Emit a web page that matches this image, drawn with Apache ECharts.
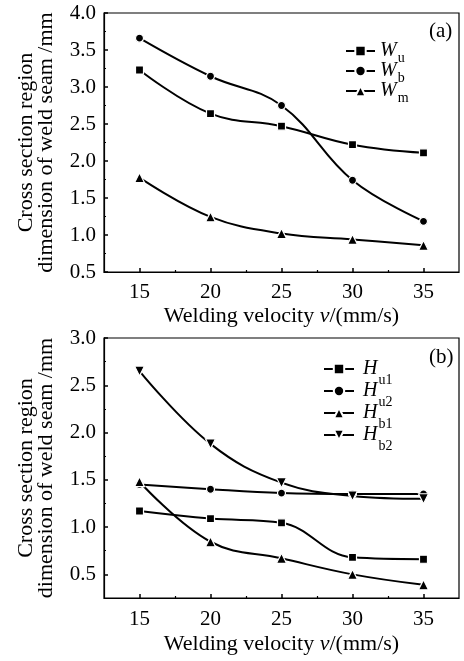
<!DOCTYPE html>
<html><head><meta charset="utf-8">
<script src="https://cdn.jsdelivr.net/npm/echarts@6/dist/echarts.min.js"></script>
<style>html,body{margin:0;padding:0;background:#fff}#c{width:464px;height:661px}</style>
</head><body><div id="c"></div>
<script>
var velocity = [15, 20, 25, 30, 35];
var xTickLabels = [15, 20, 25, 30, 35];
var xMinorTicks = [17.5, 22.5, 27.5, 32.5];
var Wu = [3.23, 2.64, 2.47, 2.22, 2.11];
var Wb = [3.66, 3.145, 2.75, 1.74, 1.185];
var Wm = [1.775, 1.245, 1.02, 0.94, 0.86];
var Hu1 = [1.17, 1.09, 1.045, 0.68, 0.66];
var Hu2 = [1.45, 1.40, 1.36, 1.35, 1.35];
var Hb1 = [1.48, 0.845, 0.67, 0.50, 0.39];
var Hb2 = [2.65, 1.88, 1.47, 1.33, 1.30];
var yTicksB = [0.5, 1.0, 1.5, 2.0, 2.5, 3.0];
var yMinorB = [0.25, 0.75, 1.25, 1.75, 2.25, 2.75];

var FONT = 'Liberation Serif';
var TICK_FS = 21, NAME_FS = 22;
function pairs(ys){ return velocity.map(function(x,i){ return [x, ys[i]]; }); }
var DOWN = 'path://M0,0L10,0L5,9Z';

function xAxes(gi){
  return [{
    gridIndex: gi, type: 'value', min: 12.5, max: 37.5, position: 'bottom',
    axisLine: {show: true, lineStyle: {color: '#000', width: 1.2}},
    axisTick: {show: true, inside: true, length: 4, customValues: xTickLabels, lineStyle: {color:'#000', width: 1.5}},
    axisLabel: {customValues: xTickLabels, color: '#000', fontFamily: FONT, fontSize: TICK_FS, margin: gi === 0 ? 10 : 11},
    splitLine: {show: false},
    name: 'Welding velocity {i|v}/(mm/s)', nameLocation: 'middle', nameGap: gi === 0 ? 33 : 35,
    nameTextStyle: {color: '#000', fontFamily: FONT, fontSize: NAME_FS,
      rich: {i: {fontStyle: 'italic', fontFamily: FONT, fontSize: NAME_FS, color: '#000'}}}
  }, {
    gridIndex: gi, type: 'value', min: 12.5, max: 37.5, position: 'bottom',
    axisLine: {show: false},
    axisTick: {show: true, inside: true, length: 2, customValues: xMinorTicks, lineStyle: {color:'#000', width: 1.2}},
    axisLabel: {show: false}, splitLine: {show: false}
  }];
}
var yName = 'Cross section region\ndimension of weld seam /mm';
var yNameStyle = {color: '#000', fontFamily: FONT, fontSize: NAME_FS, lineHeight: 20};

var sym = {
  Wu: 'rect', Wb: 'circle', Wm: 'triangle',
  Hu1: 'rect', Hu2: 'circle', Hb1: 'triangle', Hb2: DOWN
};
var symSize = {rect: 8, circle: 8, triangle: 10};
function mkSeries(name, ys, gi){
  var s = sym[name];
  return {
    name: name, type: 'line', xAxisIndex: gi*2, yAxisIndex: gi === 0 ? 0 : 1,
    data: pairs(ys), smooth: 0.4, symbol: s, symbolSize: s === DOWN ? 10 : symSize[s],
    lineStyle: {color: '#000', width: 2},
    itemStyle: {color: '#000', borderColor: '#fff', borderWidth: 1.2},
    emphasis: {disabled: true}
  };
}
var legendText = {
  Wu: '{i|W}{s|u}', Wb: '{i|W}{s|b}', Wm: '{i|W}{s|m}',
  Hu1: '{i|H}{s|u1}', Hu2: '{i|H}{s|u2}', Hb1: '{i|H}{s|b1}', Hb2: '{i|H}{s|b2}'
};
var richA = {
  i: {fontStyle: 'italic', fontFamily: FONT, fontSize: 20, color: '#000', lineHeight: 18},
  s: {fontFamily: FONT, fontSize: 14, color: '#000', padding: [14, 0, 0, 1], lineHeight: 14}
};
var richB = {
  i: {fontStyle: 'italic', fontFamily: FONT, fontSize: 20, color: '#000', lineHeight: 18},
  s: {fontFamily: FONT, fontSize: 14, color: '#000', padding: [22, 0, 0, 1], lineHeight: 14}
};

var chart = echarts.init(document.getElementById('c'), null, {renderer: 'canvas'});
chart.setOption({
  animation: false,
  backgroundColor: '#fff',
  title: [
    {text: '(a)', left: 429, top: 21, padding: 0, textStyle: {fontFamily: FONT, fontSize: 21, fontWeight: 'normal', color: '#000'}},
    {text: '(b)', left: 429, top: 347, padding: 0, textStyle: {fontFamily: FONT, fontSize: 21, fontWeight: 'normal', color: '#000'}}
  ],
  legend: [{
    data: ['Wu', 'Wb', 'Wm'], orient: 'vertical', left: 345, top: 37, padding: 0,
    itemWidth: 29, itemHeight: 13, itemGap: -8, formatter: function(n){ return legendText[n]; },
    textStyle: {rich: richA}, selectedMode: false
  }, {
    data: ['Hu1', 'Hu2', 'Hb1', 'Hb2'], orient: 'vertical', left: 323, top: 351, padding: 0,
    itemWidth: 30, itemHeight: 13, itemGap: -14, formatter: function(n){ return legendText[n]; },
    textStyle: {rich: richB, padding: [0,0,0,4]}, selectedMode: false
  }],
  grid: [
    {left: 104, top: 13, width: 355, height: 259, show: true, borderColor: '#000', borderWidth: 1.2, backgroundColor: 'transparent'},
    {left: 104, top: 338, width: 355, height: 260, show: true, borderColor: '#000', borderWidth: 1.2, backgroundColor: 'transparent'}
  ],
  xAxis: xAxes(0).concat(xAxes(1)),
  yAxis: [{
    gridIndex: 0, type: 'value', min: 0.5, max: 4.0, interval: 0.5,
    axisLine: {show: true, lineStyle: {color: '#000', width: 1.2}},
    axisTick: {show: true, inside: true, length: 4, lineStyle: {color: '#000', width: 1.5}},
    minorTick: {show: true, splitNumber: 2, length: 2, lineStyle: {color: '#000', width: 1.2}},
    axisLabel: {color: '#000', fontFamily: FONT, fontSize: TICK_FS, margin: 8, formatter: function(v){ return v.toFixed(1); }},
    splitLine: {show: false}, minorSplitLine: {show: false},
    name: yName, nameLocation: 'middle', nameGap: 48, nameTextStyle: yNameStyle
  }, {
    gridIndex: 1, type: 'value', min: 0.25, max: 3.0,
    axisLine: {show: true, lineStyle: {color: '#000', width: 1.2}},
    axisTick: {show: true, inside: true, length: 4, customValues: yTicksB, lineStyle: {color: '#000', width: 1.5}},
    axisLabel: {customValues: yTicksB, color: '#000', fontFamily: FONT, fontSize: TICK_FS, margin: 8, formatter: function(v){ return v.toFixed(1); }},
    splitLine: {show: false},
    name: yName, nameLocation: 'middle', nameGap: 48, nameTextStyle: yNameStyle
  }, {
    gridIndex: 1, type: 'value', min: 0.25, max: 3.0, position: 'left',
    axisLine: {show: false},
    axisTick: {show: true, inside: true, length: 2, customValues: yMinorB, lineStyle: {color: '#000', width: 1.2}},
    axisLabel: {show: false}, splitLine: {show: false}
  }],
  series: [
    mkSeries('Wu', Wu, 0), mkSeries('Wb', Wb, 0), mkSeries('Wm', Wm, 0),
    mkSeries('Hu1', Hu1, 1), mkSeries('Hu2', Hu2, 1), mkSeries('Hb1', Hb1, 1), mkSeries('Hb2', Hb2, 1)
  ]
});
</script></body></html>
